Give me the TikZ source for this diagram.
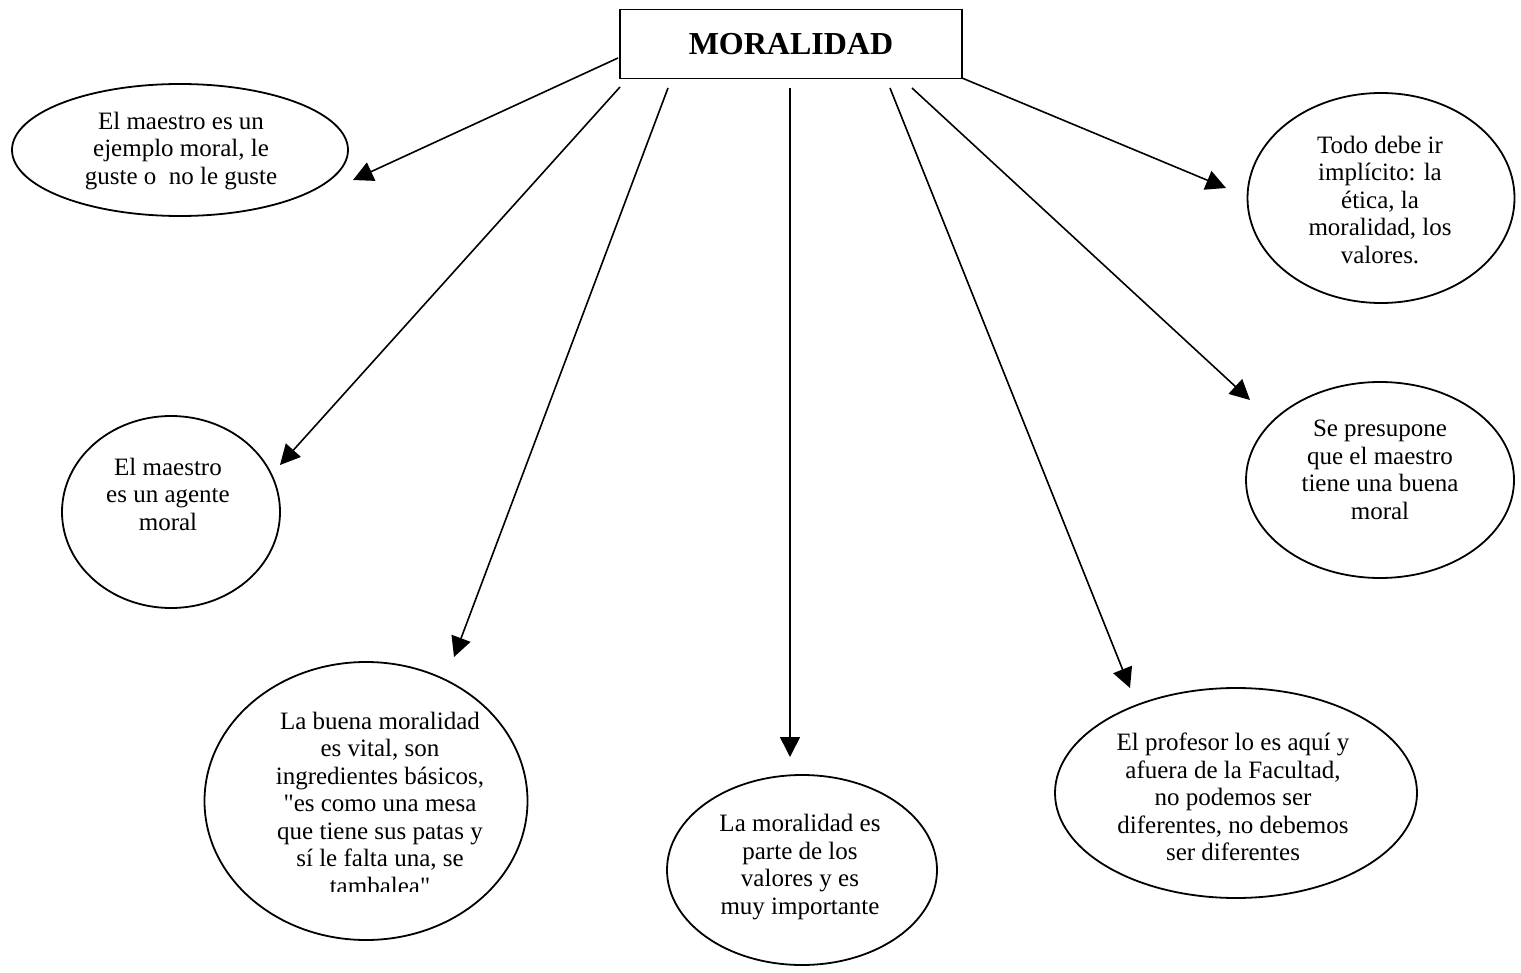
\documentclass[tikz,border=0pt]{standalone}
\usepackage{fontspec}
\setmainfont{Liberation Serif}
\usepackage{tikz}
\usetikzlibrary{shapes.geometric,arrows.meta}

\tikzset{
  bubble/.style={draw,ellipse,line width=0.9pt,inner sep=0pt},
  txt/.style={align=center,font=\fontsize{12.5}{13.75}\selectfont},
  arr/.style={-{Triangle[length=10pt,width=10pt]},line width=0.8pt}
}

\begin{document}
\begin{tikzpicture}[x=0.5pt,y=-0.5pt]
  \useasboundingbox (0,0) rectangle (1521,973);
  % title
  \node[draw,line width=0.9pt,minimum width=171pt,minimum height=34.5pt,
        font=\fontsize{16}{18}\selectfont\bfseries] (m) at (791,44) {MORALIDAD};
  % bubbles
  \node[bubble,minimum width=168pt,minimum height=66pt] (e1) at (180,150) {};
  \node[txt] (t1) at (181,151) {El maestro es un\\ejemplo moral, le\\guste o\ \ no le guste};
  \node[bubble,minimum width=109pt,minimum height=96pt] (e2) at (171,512) {};
  \node[txt] (t2) at (168,494) {El maestro\\es un agente\\moral};
  \node[bubble,minimum width=161.5pt,minimum height=139pt] (e3) at (366,801) {};
  \begin{scope}
    \clip (250,700) rectangle (520,891);
    \node[txt] (t3) at (380,803) {La buena moralidad\\es vital, son\\ingredientes básicos,\\\textquotedbl es como una mesa\\que tiene sus patas y\\sí le falta una, se\\tambalea\textquotedbl};
  \end{scope}
  \node[bubble,minimum width=135pt,minimum height=95pt] (e4) at (802,870) {};
  \node[txt] (t4) at (800,867) {La moralidad es\\parte de los\\valores y es\\muy importante};
  \node[bubble,minimum width=181pt,minimum height=105pt] (e5) at (1236,793) {};
  \node[txt] (t5) at (1233,797) {El profesor lo es aquí y\\afuera de la Facultad,\\no podemos ser\\diferentes, no debemos\\ser diferentes};
  \node[bubble,minimum width=134pt,minimum height=98pt] (e6) at (1380,480) {};
  \node[txt] (t6) at (1380,470) {Se presupone\\que el maestro\\tiene una buena\\moral};
  \node[bubble,minimum width=133.5pt,minimum height=105pt] (e7) at (1381,198) {};
  \node[txt] (t7) at (1380,200) {Todo debe ir\\implícito: la\\ética, la\\moralidad, los\\valores.};
  % arrow ends
  \coordinate (s1) at (618,58);   \coordinate (a1) at (353,180);
  \coordinate (s2) at (620,87);   \coordinate (a2) at (280,465);
  \coordinate (s3) at (668,88);   \coordinate (a3) at (454,657);
  \coordinate (s4) at (790,88);   \coordinate (a4) at (790,757);
  \coordinate (s5) at (890,88);   \coordinate (a5) at (1130,688);
  \coordinate (s6) at (912,88);   \coordinate (a6) at (1250,400);
  \coordinate (s7) at (962,78);   \coordinate (a7) at (1226,188);
  \path[arr]
    (s1) edge (a1)
    (s2) edge (a2)
    (s3) edge (a3)
    (s4) edge (a4)
    (s5) edge (a5)
    (s6) edge (a6)
    (s7) edge (a7);
\end{tikzpicture}
\end{document}
